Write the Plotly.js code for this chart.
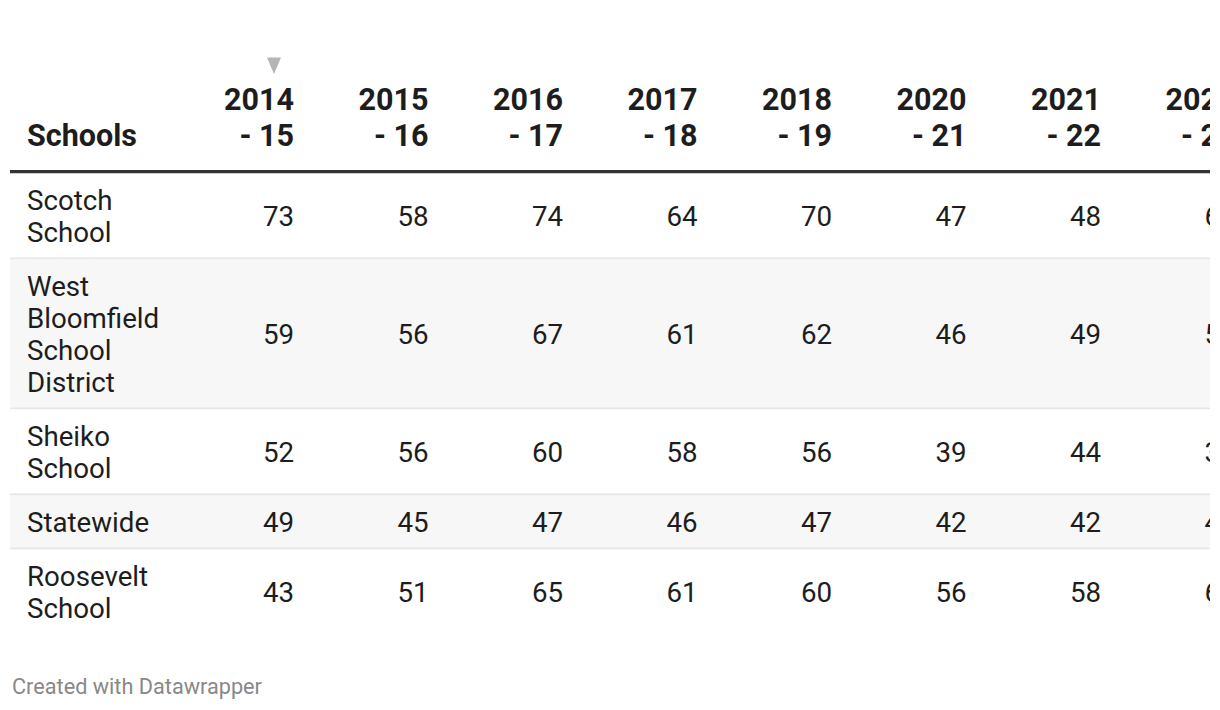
<!DOCTYPE html>
<html>
<head>
<meta charset="utf-8">
<script src="https://cdn.plot.ly/plotly-3.0.1.min.js"></script>
<style>
  html, body { margin: 0; padding: 0; background: #ffffff; overflow: hidden; }
  #chart { width: 1220px; height: 710px; }
</style>
</head>
<body>
<div id="chart"></div>
<script>
// ---------------- data ----------------
const schools = ["Scotch School", "West Bloomfield School District", "Sheiko School", "Statewide", "Roosevelt School"];
const schoolLabels = ["Scotch<br>School", "West<br>Bloomfield<br>School<br>District", "Sheiko<br>School", "Statewide", "Roosevelt<br>School"];
const firstColumnTitle = "Schools";
const yearLabels = ["2014<br>- 15", "2015<br>- 16", "2016<br>- 17", "2017<br>- 18", "2018<br>- 19", "2020<br>- 21", "2021<br>- 22", "2022<br>- 23"];
const y2014_15 = [73, 59, 52, 49, 43];
const y2015_16 = [58, 56, 56, 45, 51];
const y2016_17 = [74, 67, 60, 47, 65];
const y2017_18 = [64, 61, 58, 46, 61];
const y2018_19 = [70, 62, 56, 47, 60];
const y2020_21 = [47, 46, 39, 42, 56];
const y2021_22 = [48, 49, 44, 42, 58];
const y2022_23 = [62, 54, 38, 44, 61]; // cut off in the reference, only the first digit is visible
const yearColumns = [y2014_15, y2015_16, y2016_17, y2017_18, y2018_19, y2020_21, y2021_22, y2022_23];
const footerText = "Created with Datawrapper";

// ---------------- layout / style ----------------
const FONT = 'Roboto, "Noto Sans", sans-serif';
const TEXT_COLOR = '#1d1d1d';
const BODY_SIZE = 27.7;
const HEAD_SIZE = 30.5;
const TABLE_LEFT = 10, TABLE_RIGHT = 1246;
const NAME_X = 27;
const FIRST_RIGHT = 294, COL_STEP = 134.5;
const HEAD_LINE1 = 100, HEAD_GAP = 36;
const RULE_TOP = 170, RULE_BOTTOM = 173.5;
const LINE_H = 32, ROW_PAD = 20, SEP_H = 2;
const HEAD_DY = 2, BODY_DY = 4;
const colRight = j => FIRST_RIGHT + j * COL_STEP;

const shapes = [];
const textTraceBase = { type: 'scatter', mode: 'text', hoverinfo: 'skip', cliponaxis: true, showlegend: false };

// header
const headX = [], headY = [], headT = [];
yearLabels.forEach((lab, j) => {
  lab.split('<br>').forEach((ln, k) => {
    headX.push(colRight(j)); headY.push(HEAD_LINE1 + k * HEAD_GAP + HEAD_DY); headT.push(ln);
  });
});
const headerTrace = Object.assign({}, textTraceBase, {
  x: headX, y: headY, text: headT, textposition: 'middle left',
  textfont: { family: FONT, size: HEAD_SIZE, color: TEXT_COLOR, weight: 700 }
});
const headerNameTrace = Object.assign({}, textTraceBase, {
  x: [NAME_X], y: [HEAD_LINE1 + HEAD_GAP + HEAD_DY], text: [firstColumnTitle], textposition: 'middle right',
  textfont: { family: FONT, size: HEAD_SIZE, color: TEXT_COLOR, weight: 700 }
});

// sort indicator above first year column
const triX = colRight(0) - 20;
shapes.push({ type: 'path', xref: 'x', yref: 'y', layer: 'below',
  path: `M ${triX - 7} 57.5 L ${triX + 7} 57.5 L ${triX} 74 Z`,
  fillcolor: '#b5b5b5', line: { width: 0 } });

// header rule
shapes.push({ type: 'rect', xref: 'x', yref: 'y', layer: 'below',
  x0: TABLE_LEFT, x1: TABLE_RIGHT, y0: RULE_TOP, y1: RULE_BOTTOM,
  fillcolor: '#333333', line: { width: 0 } });

// body
const nameX = [], nameY = [], nameT = [];
const valX = [], valY = [], valT = [];
let cur = RULE_BOTTOM;
schoolLabels.forEach((lab, i) => {
  const lines = lab.split('<br>');
  const h = lines.length * LINE_H + ROW_PAD;
  shapes.push({ type: 'rect', xref: 'x', yref: 'y', layer: 'below',
    x0: TABLE_LEFT, x1: TABLE_RIGHT, y0: cur, y1: cur + h,
    fillcolor: i % 2 ? '#f7f7f7' : '#ffffff', line: { width: 0 } });
  const center = cur + h / 2;
  lines.forEach((ln, k) => {
    nameX.push(NAME_X);
    nameY.push(center + (k - (lines.length - 1) / 2) * LINE_H + BODY_DY);
    nameT.push(ln);
  });
  yearColumns.forEach((col, j) => {
    valX.push(colRight(j)); valY.push(center + BODY_DY); valT.push(String(col[i]));
  });
  cur += h;
  if (i < schoolLabels.length - 1) {
    shapes.push({ type: 'rect', xref: 'x', yref: 'y', layer: 'below',
      x0: TABLE_LEFT, x1: TABLE_RIGHT, y0: cur, y1: cur + SEP_H,
      fillcolor: '#e6e6e6', line: { width: 0 } });
    cur += SEP_H;
  }
});
const nameTrace = Object.assign({}, textTraceBase, {
  x: nameX, y: nameY, text: nameT, textposition: 'middle right',
  textfont: { family: FONT, size: BODY_SIZE, color: TEXT_COLOR }
});
const valueTrace = Object.assign({}, textTraceBase, {
  x: valX, y: valY, text: valT, textposition: 'middle left',
  textfont: { family: FONT, size: BODY_SIZE, color: TEXT_COLOR }
});

const layout = {
  width: 1220, height: 710,
  margin: { l: 10, r: 10, t: 0, b: 0, pad: 0 },
  paper_bgcolor: '#ffffff', plot_bgcolor: '#ffffff',
  showlegend: false,
  xaxis: { range: [10, 1210], visible: false, fixedrange: true },
  yaxis: { range: [710, 0], visible: false, fixedrange: true },
  shapes: shapes,
  annotations: [{
    text: footerText, xref: 'paper', yref: 'y', x: 0, y: 686,
    xanchor: 'left', yanchor: 'middle', showarrow: false,
    font: { family: FONT, size: 21.7, color: '#888888' }
  }]
};

Plotly.newPlot('chart', [headerTrace, headerNameTrace, nameTrace, valueTrace], layout,
  { staticPlot: true, displayModeBar: false });
</script>
</body>
</html>
